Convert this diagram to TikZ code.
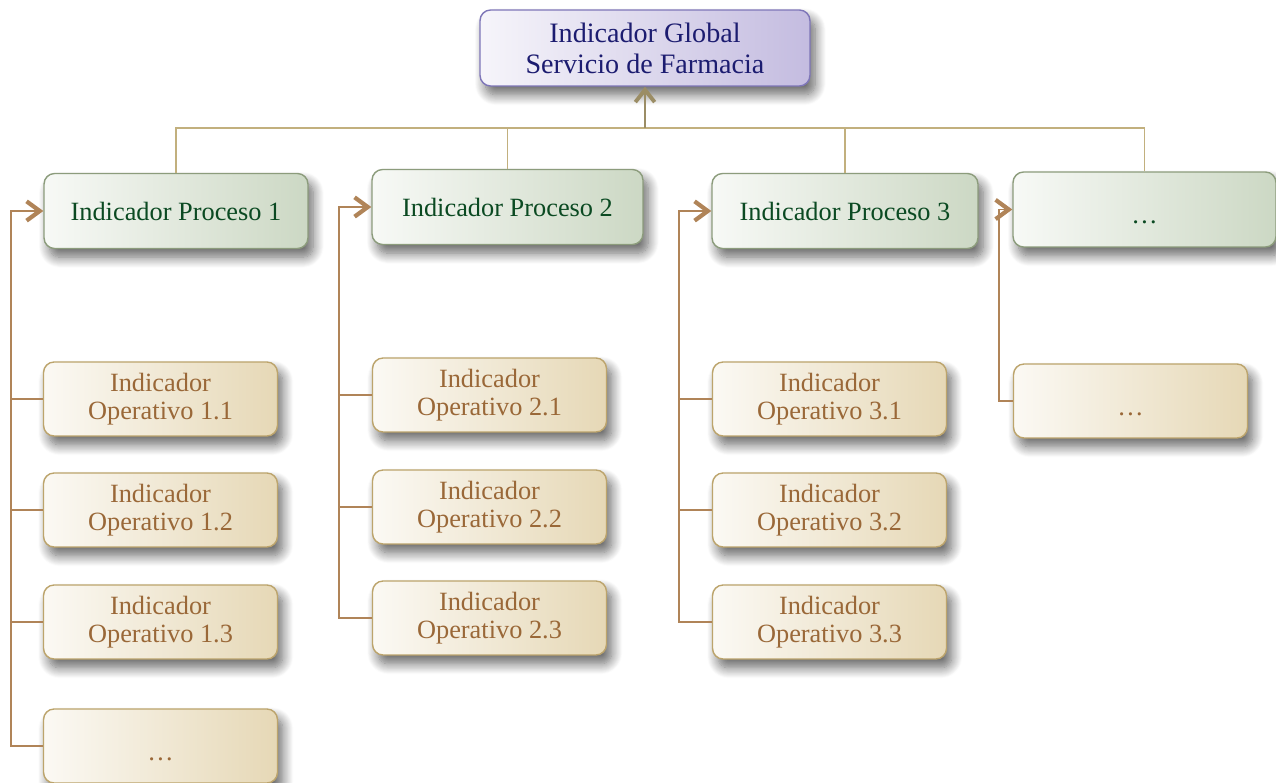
\documentclass[tikz,border=0pt]{standalone}
\usepackage{fontspec}
\setmainfont{Liberation Serif}
\usetikzlibrary{arrows.meta,shadows.blur}
\definecolor{globfill}{HTML}{C4BCE0}
\definecolor{globline}{HTML}{7E76B8}
\definecolor{globtext}{HTML}{1C1C70}
\definecolor{procfill}{HTML}{CCD8C4}
\definecolor{procline}{HTML}{8C9C7C}
\definecolor{proctext}{HTML}{0B4A22}
\definecolor{opfill}{HTML}{E6D8B6}
\definecolor{opline}{HTML}{BCA46C}
\definecolor{optext}{HTML}{9A6838}
\definecolor{treeline}{HTML}{C2B07E}
\definecolor{busline}{HTML}{B08458}
\newcommand{\lowdots}{\smash{\raisebox{-8pt}{\ldots}}}
\tikzset{
  boxshadow/.style={blur shadow={shadow xshift=3pt,shadow yshift=-5pt,shadow blur steps=12,shadow blur radius=6pt,shadow opacity=60}},
  globbox/.style={draw=globline,line width=0.8pt,rounded corners=6pt,left color=globfill!15,right color=globfill,
    text=globtext,align=center,font=\fontsize{16}{17.6}\selectfont,minimum width=6.6cm,minimum height=1.52cm,boxshadow},
  procbox/.style={draw=procline,line width=0.8pt,rounded corners=6pt,left color=procfill!15,right color=procfill,
    text=proctext,align=center,font=\fontsize{15}{16}\selectfont,minimum height=1.5cm,boxshadow},
  opbox/.style={draw=opline,line width=0.8pt,rounded corners=6pt,left color=opfill!15,right color=opfill,
    text=optext,align=center,font=\fontsize{15}{16}\selectfont,minimum width=4.68cm,minimum height=1.48cm,boxshadow},
  tree/.style={draw=treeline,line width=1pt},
  treearrow/.style={draw=treeline!80!black,line width=1.4pt,-{Straight Barb[length=7pt,width=11pt,line width=2.2pt]}},
  bus/.style={draw=busline,line width=1.1pt},
  busarrow/.style={bus,-{Straight Barb[length=7.5pt,width=11pt,line width=2.4pt]}}
}
\begin{document}
\begin{tikzpicture}[x=0.02cm,y=-0.02cm]
        \useasboundingbox (0,0) rectangle (1276,783);

        \node[globbox] (glob) at (645,48) {Indicador Global\\Servicio de Farmacia};

        \node[procbox,minimum width=5.28cm] (p1) at (176,211) {Indicador Proceso 1};
        \node[procbox,minimum width=5.42cm] (p2) at (507.5,207) {Indicador Proceso 2};
        \node[procbox,minimum width=5.32cm] (p3) at (845,211) {Indicador Proceso 3};
        \node[procbox,minimum width=5.26cm] (p4) at (1144.5,209.5) {\lowdots};

        \node[opbox] (o11) at (160.5,399) {Indicador\\Operativo 1.1};
        \node[opbox] (o12) at (160.5,510) {Indicador\\Operativo 1.2};
        \node[opbox] (o13) at (160.5,622) {Indicador\\Operativo 1.3};
        \node[opbox] (o14) at (160.5,746) {\lowdots};

        \node[opbox] (o21) at (489.5,395) {Indicador\\Operativo 2.1};
        \node[opbox] (o22) at (489.5,507) {Indicador\\Operativo 2.2};
        \node[opbox] (o23) at (489.5,618) {Indicador\\Operativo 2.3};

        \node[opbox] (o31) at (829.5,399) {Indicador\\Operativo 3.1};
        \node[opbox] (o32) at (829.5,510) {Indicador\\Operativo 3.2};
        \node[opbox] (o33) at (829.5,622) {Indicador\\Operativo 3.3};

        \node[opbox] (o41) at (1130.5,401) {\lowdots};

        \coordinate (top) at (645,128);
        \draw[tree] (p1.north) |- (top) -| (p4.north);
        \draw[tree] (p2.north) -- (p2.north |- top);
        \draw[tree] (p3.north) -- (p3.north |- top);
        \draw[treearrow] (top) -- (glob.south);

        \coordinate (b1) at (11,0);
        \coordinate (b2) at (339,0);
        \coordinate (b3) at (679,0);
        \coordinate (b4) at (999,0);

        \draw[busarrow] (o14.west) -| (b1 |- p1.west) -- (p1.west);
        \draw[bus] (o11.west) -- (o11.west -| b1);
        \draw[bus] (o12.west) -- (o12.west -| b1);
        \draw[bus] (o13.west) -- (o13.west -| b1);

        \draw[busarrow] (o23.west) -| (b2 |- p2.west) -- (p2.west);
        \draw[bus] (o21.west) -- (o21.west -| b2);
        \draw[bus] (o22.west) -- (o22.west -| b2);

        \draw[busarrow] (o33.west) -| (b3 |- p3.west) -- (p3.west);
        \draw[bus] (o31.west) -- (o31.west -| b3);
        \draw[bus] (o32.west) -- (o32.west -| b3);

        \draw[busarrow] (o41.west) -| (b4 |- p4.west) -- (p4.west);
    \end{tikzpicture}
\end{document}
